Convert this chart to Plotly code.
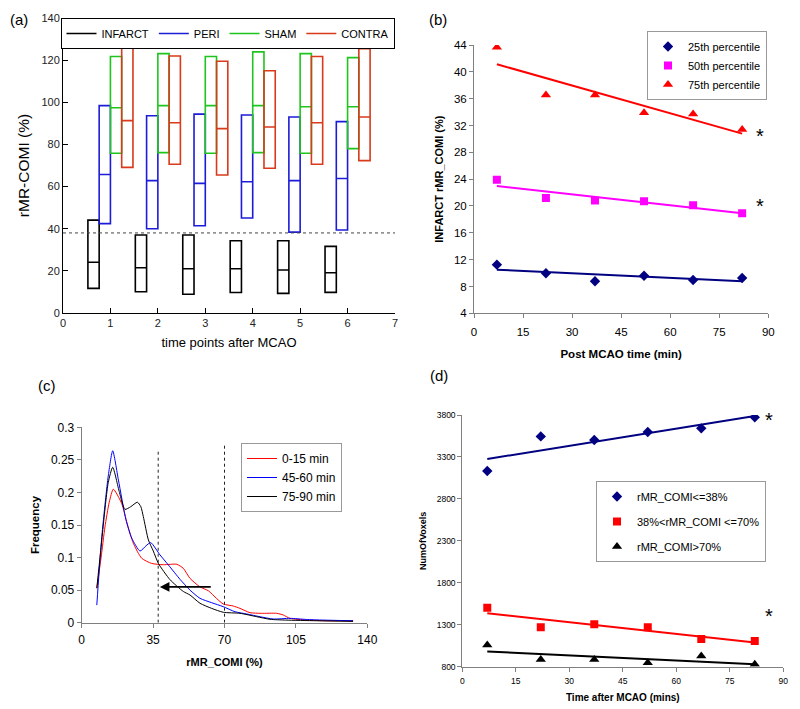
import numpy as np
import plotly.graph_objects as go

# ---------------- Panel (a): box summaries ----------------
time_points = [1, 2, 3, 4, 5, 6]
infarct_q1 = [11.7, 10.1, 8.9, 9.7, 9.3, 9.8]
infarct_med = [24.1, 21.5, 21.0, 21.0, 20.4, 19.1]
infarct_q3 = [44.1, 37.0, 37.0, 34.3, 34.3, 31.6]
peri_q1 = [42.4, 40.0, 41.4, 45.1, 38.4, 39.4]
peri_med = [65.7, 62.8, 61.5, 62.3, 62.8, 63.8]
peri_q3 = [98.4, 93.6, 94.4, 94.0, 93.0, 90.8]
sham_q1 = [75.8, 76.1, 75.8, 76.1, 75.8, 78.0]
sham_med = [97.4, 98.4, 98.4, 98.4, 97.9, 97.9]
sham_q3 = [121.7, 123.1, 121.7, 123.9, 123.1, 121.2]
contra_q1 = [69.1, 70.6, 65.5, 68.7, 70.6, 72.3]
contra_med = [91.3, 90.3, 87.5, 88.3, 90.3, 93.0]
contra_q3 = [125.9, 122.0, 119.5, 115.0, 121.7, 125.4]
threshold_a = 38

# ---------------- Panel (b): infarct percentiles ----------------
post_time = [7, 22, 37, 52, 67, 82]
p25 = [11.25, 9.96, 8.77, 9.6, 8.97, 9.27]
p50 = [23.9, 21.2, 20.8, 20.7, 20.1, 18.9]
p75 = [43.65, 36.55, 36.55, 33.9, 33.7, 31.4]

# ---------------- Panel (c): frequency curves ----------------
red_x = [7.4, 9.5, 11.4, 13.5, 15.5, 19.6, 22.3, 25.3, 29.4, 34.3, 40, 46.6, 49.8, 53.1, 58.0,
         62.1, 66.2, 69.4, 74.3, 77.6, 82.5, 88, 95.6, 98.8, 102.1, 110.3, 120, 133.1]
red_y = [0.053, 0.10, 0.147, 0.185, 0.205, 0.183, 0.152, 0.122, 0.099, 0.091, 0.089, 0.0897, 0.0835,
         0.068, 0.055, 0.049, 0.037, 0.0287, 0.0256, 0.022, 0.0154, 0.0144, 0.0144, 0.0118, 0.0067,
         0.004, 0.003, 0.003]
blue_x = [7.4, 9.2, 10.3, 13, 15.2, 18, 21.7, 24.5, 28.6, 31.5, 33.8, 38.4, 42.5, 48.2, 53.1, 58,
          63.7, 69.4, 75.1, 80.9, 87.4, 93.9, 102.1, 110, 118.4, 133]
blue_y = [0.027, 0.107, 0.147, 0.225, 0.264, 0.219, 0.158, 0.13, 0.110, 0.118, 0.123, 0.104, 0.0886,
          0.0666, 0.050, 0.0374, 0.0307, 0.0246, 0.0169, 0.0134, 0.0092, 0.0057, 0.0067, 0.005,
          0.004, 0.003]
black_x = [7.4, 9.2, 10.5, 13, 15.2, 18.5, 21.2, 24, 27.3, 29, 30.2, 32.7, 35.1, 37.6, 43.3, 49.8,
           53.1, 58, 63.7, 69.4, 77.6, 85.8, 92.3, 100, 115, 133]
black_y = [0.053, 0.107, 0.147, 0.215, 0.2386, 0.2, 0.174, 0.178, 0.185, 0.178, 0.163, 0.127, 0.11,
           0.091, 0.066, 0.048, 0.0425, 0.0298, 0.022, 0.016, 0.0144, 0.0092, 0.0052, 0.004, 0.003,
           0.002]
vline_x = [37.5, 70]
vline_top = [0.263, 0.273]
arrow_from = [64, 0.055]
arrow_to = [38.3, 0.055]

# ---------------- Panel (d): voxel counts ----------------
voxel_time = [7, 22, 37, 52, 67, 82]
voxels_low = [3132, 3545, 3502, 3597, 3641, 3772]
voxels_mid = [1503, 1269, 1305, 1269, 1130, 1106]
voxels_high = [1058, 887, 887, 848, 927, 828]

fig = go.Figure()

# ---- (a) ----
MATLAB_FONT = "Liberation Sans Narrow, Liberation Sans, Arial"
box_specs = [
    ("INFARCT", "#000000", infarct_q1, infarct_med, infarct_q3),
    ("PERI", "#1C1CD8", peri_q1, peri_med, peri_q3),
    ("SHAM", "#1FC41F", sham_q1, sham_med, sham_q3),
    ("CONTRA", "#D83A1A", contra_q1, contra_med, contra_q3),
]
for name, col, q1, med, q3 in box_specs:
    fig.add_trace(go.Box(
        x=time_points, q1=q1, median=med, q3=q3, lowerfence=q1, upperfence=q3,
        name=name, line=dict(color=col, width=1.6), fillcolor="rgba(255,255,255,0)",
        whiskerwidth=0, boxpoints=False, showlegend=False, hoverinfo="skip",
        xaxis="x", yaxis="y"))
for name, col, *_ in box_specs:
    fig.add_trace(go.Scatter(x=[None], y=[None], mode="lines", name=name,
                             line=dict(color=col, width=1.6), legend="legend",
                             xaxis="x", yaxis="y"))
fig.add_trace(go.Scatter(x=[0, 7], y=[threshold_a, threshold_a], mode="lines",
                         line=dict(color="#444444", width=1, dash="dot"),
                         showlegend=False, xaxis="x", yaxis="y"))

# ---- (b) ----
b_specs = [
    ("25th percentile", "#000080", "diamond", 8, p25),
    ("50th percentile", "#FF00FF", "square", 8, p50),
    ("75th percentile", "#FF0000", "triangle-up", 9, p75),
]
for name, col, sym, sz, vals in b_specs:
    fig.add_trace(go.Scatter(x=post_time, y=vals, mode="markers", name=name,
                             marker=dict(color=col, symbol=sym, size=sz),
                             legend="legend2", xaxis="x2", yaxis="y2"))
    k, c = np.polyfit(post_time, vals, 1)
    xs = [post_time[0], post_time[-1]]
    fig.add_trace(go.Scatter(x=xs, y=[k * v + c for v in xs], mode="lines",
                             line=dict(color=col, width=2), showlegend=False,
                             xaxis="x2", yaxis="y2"))

# ---- (c) ----
for name, col, xs, ys in [("0-15 min", "#FF0000", red_x, red_y),
                          ("45-60 min", "#0000FF", blue_x, blue_y),
                          ("75-90 min", "#000000", black_x, black_y)]:
    fig.add_trace(go.Scatter(x=xs, y=ys, mode="lines", name=name,
                             line=dict(color=col, width=1, shape="spline", smoothing=0.6),
                             legend="legend3", xaxis="x3", yaxis="y3"))
for vx, vt in zip(vline_x, vline_top):
    fig.add_trace(go.Scatter(x=[vx, vx], y=[0, vt], mode="lines",
                             line=dict(color="#222222", width=1, dash="dot"),
                             showlegend=False, xaxis="x3", yaxis="y3"))

# ---- (d) ----
d_specs = [
    ("rMR_COMI&lt;=38%", "#000080", "diamond", 8, voxels_low),
    ("38%&lt;rMR_COMI &lt;=70%", "#FF0000", "square", 8, voxels_mid),
    ("rMR_COMI&gt;70%", "#000000", "triangle-up", 9, voxels_high),
]
for i, (name, col, sym, sz, vals) in enumerate(d_specs):
    fig.add_trace(go.Scatter(x=voxel_time, y=vals, mode="markers", name=name,
                             marker=dict(color=col, symbol=sym, size=sz),
                             legend="legend4", legendgroup=f"d{i}",
                             xaxis="x4", yaxis="y4"))
    k, c = np.polyfit(voxel_time, vals, 1)
    xs = [voxel_time[0], voxel_time[-1]]
    fig.add_trace(go.Scatter(x=xs, y=[k * v + c for v in xs], mode="lines",
                             line=dict(color=col, width=2), showlegend=False,
                             xaxis="x4", yaxis="y4"))

W, H = 800, 709
def dx(a, b):
    return [a / W, b / W]
def dy(top, bottom):
    return [1 - bottom / H, 1 - top / H]

XL = "Liberation Sans, Arial"
axis_a = dict(showline=True, linecolor="black", linewidth=1, ticks="inside", ticklen=5,
              tickcolor="black", showgrid=False, zeroline=False, automargin=False,
              tickfont=dict(family=MATLAB_FONT, size=11, color="#222"))
axis_x = dict(showline=True, linecolor="#808080", linewidth=1, ticks="outside", ticklen=4,
              tickcolor="#808080", showgrid=False, zeroline=False, automargin=False)

fig.update_layout(
    width=W, height=H, margin=dict(l=0, r=0, t=0, b=0),
    plot_bgcolor="white", paper_bgcolor="white",
    boxmode="group", boxgap=0.05, boxgroupgap=0,
    font=dict(family=XL, color="black"),
    xaxis=dict(axis_a, domain=dx(63, 395), range=[0, 7], dtick=1, anchor="y",
               title=dict(text="time points after MCAO", font=dict(family=MATLAB_FONT, size=13), standoff=9)),
    yaxis=dict(axis_a, domain=dy(18, 313), range=[0, 140], dtick=20, anchor="x",
               title=dict(text="rMR-COMI (%)", font=dict(family=MATLAB_FONT, size=15.5), standoff=8)),
    xaxis2=dict(axis_x, domain=dx(474, 768.3), range=[0, 90], dtick=15, anchor="y2",
                tickfont=dict(size=11.5), ticklabelstandoff=4,
                title=dict(text="<b>Post MCAO time (min)</b>", font=dict(size=11.5), standoff=12)),
    yaxis2=dict(axis_x, domain=dy(45, 313.3), range=[4, 44], dtick=4, anchor="x2",
                tickfont=dict(size=11.5),
                title=dict(text="<b>INFARCT rMR_COMI (%)</b>", font=dict(size=11), standoff=8)),
    xaxis3=dict(axis_x, domain=dx(81.7, 367.3), range=[0, 140], dtick=35, anchor="y3",
                tickfont=dict(size=12), ticklabelstandoff=2,
                title=dict(text="<b>rMR_COMI (%)</b>", font=dict(size=11), standoff=12)),
    yaxis3=dict(axis_x, domain=dy(427.3, 622.7), range=[0, 0.3], dtick=0.05, anchor="x3",
                tickfont=dict(size=12), tickformat="~g",
                title=dict(text="<b>Frequency</b>", font=dict(size=11.5), standoff=8)),
    xaxis4=dict(axis_x, domain=dx(462.3, 783.3), range=[0, 90], dtick=15, anchor="y4",
                tickfont=dict(size=8.5), ticklabelstandoff=2,
                title=dict(text="<b>Time after MCAO (mins)</b>", font=dict(size=10), standoff=9)),
    yaxis4=dict(axis_x, domain=dy(415, 666.7), range=[800, 3800], dtick=500, tick0=800,
                anchor="x4", tickfont=dict(size=8.5),
                title=dict(text="<b>NumOfVoxels</b>", font=dict(size=9), standoff=8)),
    legend=dict(orientation="h", x=227.5 / W, y=1 - 18 / H, xanchor="center", yanchor="top",
                bordercolor="black", borderwidth=1, bgcolor="white",
                font=dict(family=MATLAB_FONT, size=11), itemwidth=30),
    legend2=dict(x=767 / W, y=1 - 31 / H, xanchor="right", yanchor="top",
                 bordercolor="#999999", borderwidth=1, bgcolor="white",
                 font=dict(size=11), itemwidth=30),
    legend3=dict(x=342 / W, y=1 - 443 / H, xanchor="right", yanchor="top",
                 bordercolor="#999999", borderwidth=1, bgcolor="white",
                 font=dict(size=12), itemwidth=30),
    legend4=dict(x=766 / W, y=1 - 481 / H, xanchor="right", yanchor="top",
                 bordercolor="#999999", borderwidth=1, bgcolor="white",
                 font=dict(size=11), itemwidth=30, tracegroupgap=6),
)

ann = []
for txt, px, py in [("(a)", 8, 20), ("(b)", 427, 20), ("(c)", 36, 385), ("(d)", 428, 376)]:
    ann.append(dict(text=txt, x=px / W, y=1 - py / H, xref="paper", yref="paper",
                    xanchor="left", yanchor="middle", showarrow=False,
                    font=dict(family=XL, size=15, color="black")))
for ax_, ay_, xv, yv in [("x2", "y2", 87.5, 30.8), ("x2", "y2", 87.5, 20.3),
                         ("x4", "y4", 86.1, 3760), ("x4", "y4", 86.1, 1428)]:
    ann.append(dict(text="*", x=xv, y=yv, xref=ax_, yref=ay_, showarrow=False,
                    yshift=-2, font=dict(family=XL, size=20, color="black")))
ann.append(dict(x=arrow_to[0], y=arrow_to[1], ax=arrow_from[0], ay=arrow_from[1],
                xref="x3", yref="y3", axref="x3", ayref="y3", text="", showarrow=True,
                arrowhead=2, arrowsize=1.2, arrowwidth=1.6, arrowcolor="black"))
fig.update_layout(annotations=ann)

fig.write_html("out.html", config={"displayModeBar": False},
               post_script="document.body.style.margin='0';")
